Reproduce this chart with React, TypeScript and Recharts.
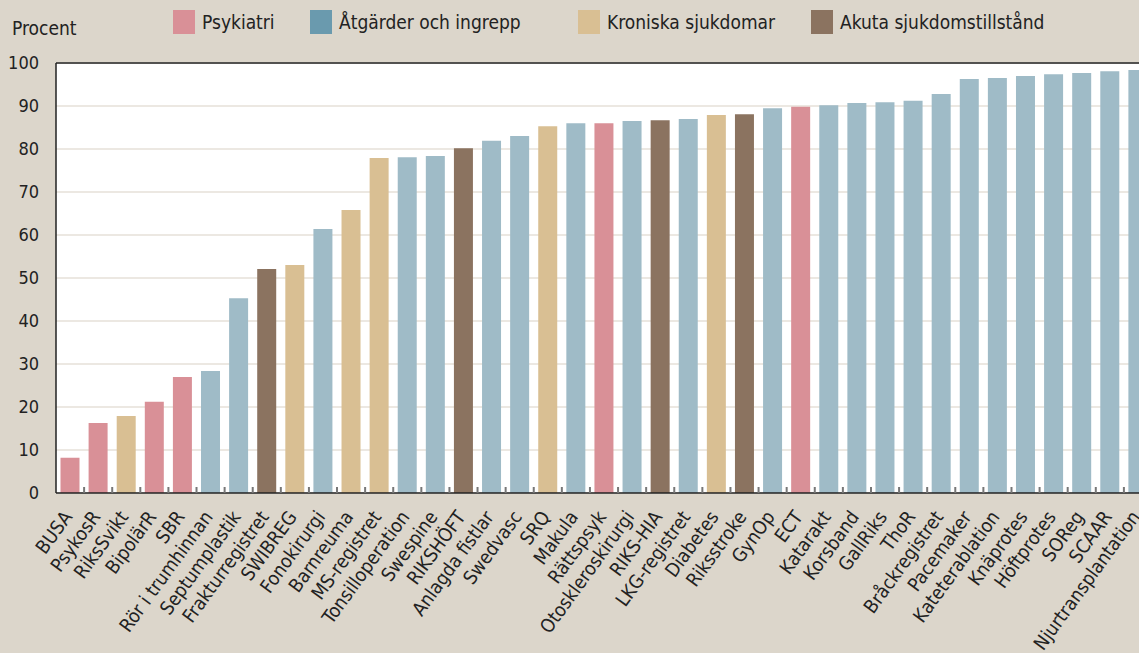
import React from "react";
import { BarChart, Bar, XAxis, YAxis, CartesianGrid, Cell, ReferenceLine } from "recharts";

const categories = [
  "BUSA", "PsykosR", "RiksSvikt", "BipolärR", "SBR", "Rör i trumhinnan", "Septumplastik",
  "Frakturregistret", "SWIBREG", "Fonokirurgi", "Barnreuma", "MS-registret", "Tonsilloperation",
  "Swespine", "RIKSHÖFT", "Anlagda fistlar", "Swedvasc", "SRQ", "Makula", "Rättspsyk",
  "Otoskleroskirurgi", "RIKS-HIA", "LKG-registret", "Diabetes", "Riksstroke", "GynOp", "ECT",
  "Katarakt", "Korsband", "GallRiks", "ThoR", "Bråckregistret", "Pacemaker", "Kateterablation",
  "Knäprotes", "Höftprotes", "SOReg", "SCAAR", "Njurtransplantation",
];

const values = [
  8.2, 16.3, 17.9, 21.2, 27.0, 28.4, 45.3,
  52.1, 53.0, 61.4, 65.8, 77.9, 78.1,
  78.4, 80.2, 81.9, 83.0, 85.3, 86.0, 86.0,
  86.5, 86.7, 87.0, 87.9, 88.1, 89.5, 89.8,
  90.2, 90.7, 90.9, 91.2, 92.8, 96.3, 96.5,
  97.0, 97.4, 97.7, 98.1, 98.4,
];

// 0 = Psykiatri, 1 = Åtgärder och ingrepp, 2 = Kroniska sjukdomar, 3 = Akuta sjukdomstillstånd
const groups = [
  0, 0, 2, 0, 0, 1, 1,
  3, 2, 1, 2, 2, 1,
  1, 3, 1, 1, 2, 1, 0,
  1, 3, 1, 2, 3, 1, 0,
  1, 1, 1, 1, 1, 1, 1,
  1, 1, 1, 1, 1,
];

const legendLabels = ["Psykiatri", "Åtgärder och ingrepp", "Kroniska sjukdomar", "Akuta sjukdomstillstånd"];
const legendColors = ["#D99097", "#6A9AAE", "#D9BF93", "#8B7360"];
const barColors = ["#D99097", "#9FBBC7", "#D9BF93", "#8B7360"];
const yTicks = [0, 10, 20, 30, 40, 50, 60, 70, 80, 90, 100];

const data = categories.map((name, i) => ({ name, value: values[i], group: groups[i] }));

const FONT = "'DejaVu Sans Condensed', 'DejaVu Sans', sans-serif";
const legendX = [173, 310, 578, 811];

const XTick = (props: any) => {
  const { x, y, payload, index } = props;
  const half = payload && payload.offset ? payload.offset : 14.05;
  const ax = x + 3;
  const ay = y + 24;
  return (
    <g>
      {index > 0 && (
        <line x1={x - half} x2={x - half} y1={y} y2={y - 6} stroke="#777" strokeWidth={2} />
      )}
      <text
        x={ax}
        y={ay}
        transform={`rotate(-54, ${ax}, ${ay})`}
        textAnchor="end"
        fontFamily={FONT}
        fontSize={19}
        fill="#222"
      >
        {payload.value}
      </text>
    </g>
  );
};

export default function App() {
  return (
    <div
      style={{
        position: "absolute",
        left: 0,
        top: 0,
        width: 1139,
        height: 653,
        overflow: "hidden",
        background: "#DCD6CB",
        fontFamily: FONT,
      }}
    >
      <div style={{ position: "absolute", left: 12, top: 17, fontSize: 19, lineHeight: "22px", color: "#222" }}>Procent</div>
      {legendLabels.map((l, i) => (
        <div key={l} style={{ position: "absolute", left: legendX[i], top: 10, height: 24 }}>
          <div style={{ position: "absolute", left: 0, top: 0, width: 22, height: 24, background: legendColors[i] }} />
          <span style={{ position: "absolute", left: 29, top: 1, fontSize: 19, lineHeight: "22px", whiteSpace: "nowrap", color: "#222" }}>
            {l}
          </span>
        </div>
      ))}
      <div style={{ position: "absolute", left: 0, top: 0 }}>
        <BarChart
          width={1160}
          height={653}
          data={data}
          margin={{ top: 63, right: 8, left: 0, bottom: 10 }}
          barCategoryGap="16%"
        >
          <CartesianGrid vertical={false} stroke="#E6E1D9" strokeWidth={1.5} fill="#FFFFFF" />
          <YAxis
            type="number"
            domain={[0, 100]}
            ticks={yTicks}
            width={56}
            tickLine={false}
            tickSize={0}
            tickMargin={17}
            axisLine={{ stroke: "#222", strokeWidth: 1.5 }}
            tick={{ fill: "#222", fontSize: 18, fontFamily: FONT }}
            interval={0}
          />
          <XAxis
            dataKey="name"
            type="category"
            height={150}
            interval={0}
            tickLine={false}
            tickSize={0}
            tickMargin={0}
            axisLine={{ stroke: "#222", strokeWidth: 1.5 }}
            tick={<XTick />}
          />
          <ReferenceLine y={100} stroke="#222" strokeWidth={1.5} />
          <Bar dataKey="value" isAnimationActive={false}>
            {data.map((d, i) => (
              <Cell key={i} fill={barColors[d.group]} />
            ))}
          </Bar>
        </BarChart>
      </div>
    </div>
  );
}
